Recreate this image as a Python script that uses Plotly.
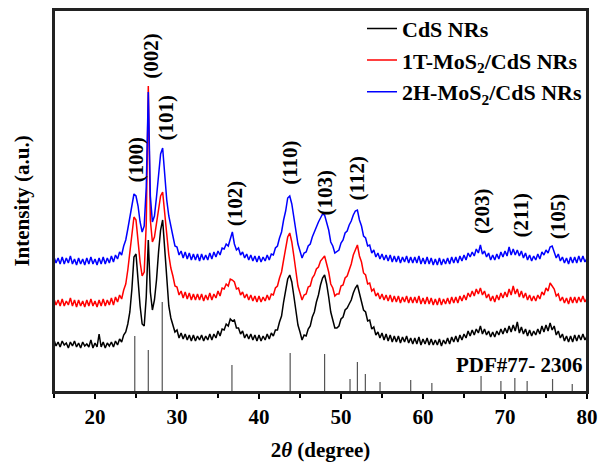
import numpy as np
import plotly.graph_objects as go

# axis ranges
x_range = [15, 80]
y_range = [0, 382]

# 2-theta sampling grid (degrees), 0.25 deg step from 15 to 80
two_theta = np.round(np.arange(15.0, 80.001, 0.25), 2)

cds = [
    52, 46, 50, 45, 51, 47, 49, 44, 50, 46, 51, 45, 49, 44, 50, 46,
    48, 45, 52, 44, 49, 45, 58, 45, 50, 44, 49, 46, 50, 45, 51, 47,
    53, 50, 57, 60, 68, 80, 103, 135, 138, 108, 86, 68, 66, 95, 152, 100,
    82, 92, 112, 140, 162, 172, 140, 108, 86, 74, 68, 60, 62, 54, 59, 53,
    58, 52, 57, 51, 57, 51, 56, 52, 57, 51, 56, 52, 58, 52, 58, 54,
    61, 56, 63, 62, 68, 66, 73, 71, 72, 64, 64, 58, 61, 54, 58, 53,
    58, 52, 57, 51, 57, 51, 56, 52, 58, 53, 59, 56, 62, 62, 70, 76,
    90, 100, 113, 117, 110, 96, 82, 67, 60, 52, 57, 56, 63, 66, 75, 80,
    90, 97, 107, 114, 117, 108, 95, 80, 72, 64, 64, 66, 73, 75, 82, 84,
    88, 92, 99, 104, 107, 98, 92, 82, 80, 71, 72, 63, 65, 57, 60, 54,
    59, 52, 58, 51, 57, 50, 56, 50, 56, 49, 55, 50, 56, 49, 54, 48,
    54, 48, 55, 47, 53, 48, 54, 47, 53, 47, 52, 47, 53, 46, 52, 48,
    54, 48, 55, 50, 56, 50, 57, 52, 58, 54, 61, 56, 62, 57, 63, 59,
    66, 58, 63, 57, 61, 55, 60, 55, 61, 57, 63, 58, 64, 59, 66, 60,
    67, 61, 70, 59, 65, 58, 63, 56, 62, 56, 61, 57, 63, 58, 66, 60,
    67, 61, 69, 62, 66, 57, 61, 54, 58, 51, 56, 50, 56, 50, 57, 51,
    57, 52, 58, 52, 56,
]

mos2_1t = [
    93, 87, 92, 86, 93, 86, 91, 87, 94, 86, 92, 85, 92, 86, 91, 85,
    92, 86, 93, 86, 91, 85, 92, 86, 93, 86, 92, 87, 94, 87, 95, 90,
    97, 93, 102, 108, 122, 138, 158, 175, 172, 150, 130, 116, 120, 168, 306, 172,
    150, 155, 168, 185, 196, 200, 182, 158, 137, 124, 116, 106, 105, 97, 101, 94,
    100, 93, 99, 92, 98, 92, 98, 92, 98, 91, 97, 92, 99, 92, 98, 94,
    101, 96, 104, 103, 108, 106, 113, 112, 110, 103, 104, 97, 100, 94, 98, 92,
    97, 91, 96, 90, 96, 90, 95, 91, 97, 92, 98, 97, 104, 106, 114, 120,
    132, 142, 155, 159, 150, 136, 120, 106, 99, 92, 97, 98, 105, 106, 114, 117,
    123, 125, 131, 134, 136, 128, 120, 108, 104, 96, 98, 98, 106, 107, 114, 116,
    122, 128, 137, 143, 147, 136, 130, 119, 117, 108, 109, 101, 103, 96, 99, 93,
    98, 92, 97, 91, 97, 90, 96, 90, 96, 89, 95, 90, 96, 89, 95, 89,
    95, 89, 96, 88, 94, 88, 95, 88, 94, 87, 93, 87, 94, 87, 93, 88,
    94, 88, 95, 89, 95, 89, 96, 91, 97, 92, 99, 95, 101, 96, 103, 98,
    104, 97, 101, 94, 98, 91, 96, 90, 97, 92, 99, 94, 100, 95, 103, 97,
    106, 98, 103, 95, 101, 94, 99, 92, 97, 91, 96, 91, 97, 93, 100, 97,
    104, 101, 109, 106, 103, 96, 98, 91, 95, 89, 94, 88, 95, 89, 95, 89,
    95, 90, 96, 90, 94,
]

mos2_2h = [
    135, 129, 134, 128, 135, 128, 134, 129, 136, 128, 133, 127, 134, 128, 133, 127,
    134, 128, 135, 128, 133, 127, 134, 128, 135, 128, 134, 129, 136, 130, 137, 133,
    140, 137, 146, 152, 163, 175, 190, 198, 196, 186, 170, 160, 166, 205, 300, 196,
    170, 176, 195, 220, 238, 244, 218, 192, 176, 164, 156, 146, 145, 137, 141, 134,
    140, 133, 139, 132, 138, 132, 138, 131, 138, 132, 137, 132, 139, 133, 140, 135,
    141, 137, 144, 143, 148, 146, 152, 160, 148, 142, 144, 137, 140, 134, 138, 132,
    137, 131, 136, 130, 136, 130, 135, 131, 137, 132, 138, 137, 144, 146, 154, 160,
    172, 181, 194, 196, 188, 176, 162, 148, 141, 134, 139, 140, 146, 148, 155, 160,
    166, 170, 174, 178, 177, 170, 162, 150, 146, 139, 141, 142, 149, 152, 159, 161,
    167, 171, 177, 181, 182, 172, 166, 156, 154, 146, 147, 139, 142, 135, 139, 133,
    138, 132, 137, 131, 137, 130, 136, 130, 136, 129, 135, 130, 136, 129, 135, 129,
    135, 129, 136, 128, 134, 128, 135, 128, 134, 127, 133, 127, 134, 127, 133, 128,
    134, 128, 135, 129, 135, 129, 136, 131, 137, 132, 139, 135, 140, 136, 143, 139,
    147, 138, 141, 135, 139, 132, 137, 132, 138, 133, 140, 135, 141, 136, 145, 137,
    143, 137, 142, 136, 141, 134, 139, 132, 137, 131, 136, 132, 138, 133, 140, 137,
    142, 139, 145, 146, 140, 134, 138, 131, 135, 129, 134, 128, 135, 129, 135, 129,
    136, 130, 136, 130, 134,
]

# PDF#77-2306 reference lines
pdf_pos = [24.85, 26.5, 28.2, 36.7, 43.8, 48.0, 51.1, 52.0, 52.97, 54.76,
           58.5, 61.08, 67.08, 69.5, 71.2, 72.7, 75.8, 78.2]
pdf_int = [56, 42, 90, 27, 39, 38, 13, 30, 18, 10, 12, 9, 16, 11, 14, 11, 13, 8]

hkl_labels = ["(100)", "(002)", "(101)", "(102)", "(110)", "(103)", "(112)", "(203)", "(211)", "(105)"]
hkl_x = [24.95, 26.8, 28.6, 37.1, 43.75, 48.0, 52.0, 67.2, 72.0, 76.5]
hkl_y = [232, 336, 274, 189, 229, 199, 214, 181, 177, 176]

series_names = ["CdS NRs", "1T-MoS<sub>2</sub>/CdS NRs", "2H-MoS<sub>2</sub>/CdS NRs"]
series_colors = ["#000000", "#ff0000", "#0000ff"]

FONT = "Liberation Serif, Times New Roman, serif"

fig = go.Figure()

# reference sticks
sx, sy = [], []
for p, h in zip(pdf_pos, pdf_int):
    sx += [p, p, None]
    sy += [0, h, None]
fig.add_trace(go.Scatter(x=sx, y=sy, mode="lines", line=dict(color="#555555", width=1.2),
                         showlegend=False, hoverinfo="skip"))

for name, col, vals in zip(series_names, series_colors, [cds, mos2_1t, mos2_2h]):
    fig.add_trace(go.Scatter(x=two_theta, y=vals, mode="lines", name="<b>%s</b>" % name,
                             line=dict(color=col, width=1.5)))

for lab, x, y in zip(hkl_labels, hkl_x, hkl_y):
    fig.add_annotation(x=x, y=y, text="<b>%s</b>" % lab, textangle=-90, showarrow=False,
                       font=dict(family=FONT, size=21, color="black"),
                       xanchor="center", yanchor="middle")

fig.add_annotation(x=79.8, y=27, text="<b>PDF#77- 2306</b>", showarrow=False,
                   xanchor="right", yanchor="middle",
                   font=dict(family=FONT, size=21, color="black"))

# frame around the plotting area
fig.add_shape(type="rect", xref="paper", yref="paper", x0=0, x1=1, y0=0, y1=1,
              line=dict(color="#222222", width=2), fillcolor="rgba(0,0,0,0)", layer="above")

fig.update_layout(
    width=598, height=462,
    margin=dict(l=54, r=11, t=10, b=70, autoexpand=False),
    paper_bgcolor="white", plot_bgcolor="white",
    font=dict(family=FONT, size=21, color="black"),
    legend=dict(x=1.0, y=1.006, xanchor="right", yanchor="top",
                bgcolor="rgba(0,0,0,0)", font=dict(family=FONT, size=22, color="black"),
                itemwidth=30, tracegroupgap=0),
    showlegend=True,
)
fig.update_xaxes(range=x_range, tickvals=[20, 30, 40, 50, 60, 70, 80],
                 ticktext=["<b>%d</b>" % v for v in [20, 30, 40, 50, 60, 70, 80]],
                 ticks="outside", ticklen=5, tickwidth=1.5, tickcolor="black",
                 minor=dict(tickvals=[15, 25, 35, 45, 55, 65, 75], ticks="outside", ticklen=4,
                            tickwidth=1.5, tickcolor="black"),
                 showline=True, linecolor="#222222", linewidth=2, mirror=True,
                 showgrid=False, zeroline=False, automargin=False,
                 tickfont=dict(family=FONT, size=21, color="black"),
                 title=dict(text="<b>2<i>θ</i> (degree)</b>", font=dict(family=FONT, size=21), standoff=15))
fig.update_yaxes(range=y_range, showticklabels=False, ticks="",
                 showline=True, linecolor="#222222", linewidth=2, mirror=True,
                 showgrid=False, zeroline=False, automargin=False,
                 title=dict(text="<b>Intensity (a.u.)</b>", font=dict(family=FONT, size=21), standoff=17))

fig.update_layout(legend_traceorder="normal")
fig.write_html("out.html", config={"displayModeBar": False},
               post_script="document.body.style.margin='0';document.body.style.padding='0';")
